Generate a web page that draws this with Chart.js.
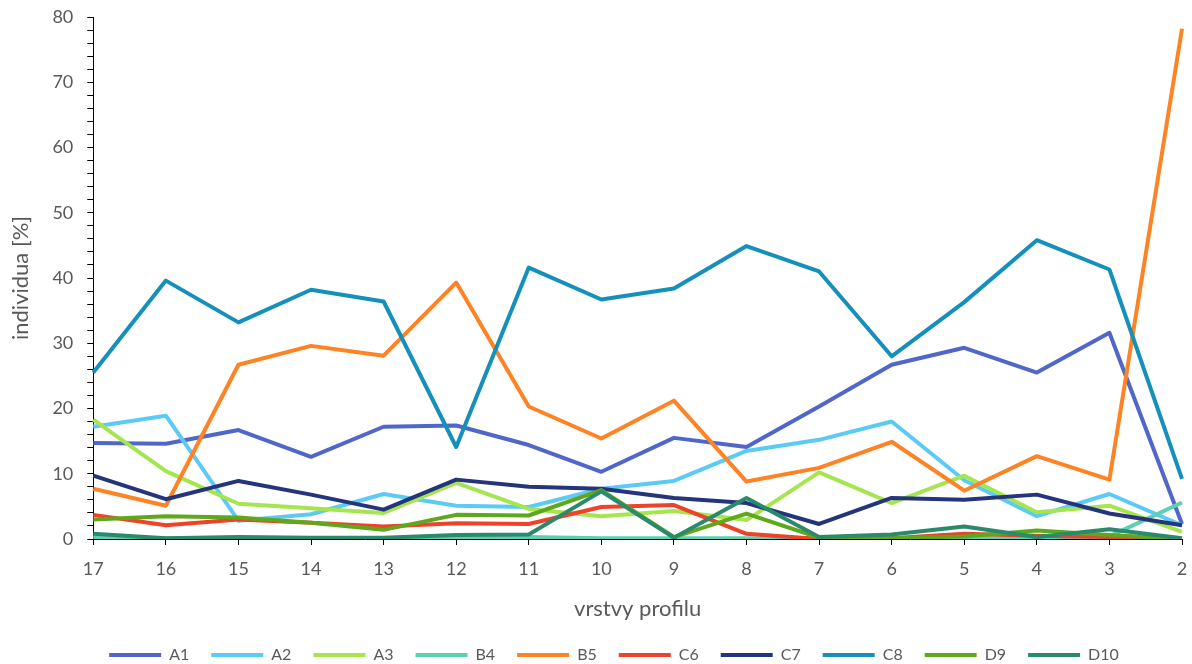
<!DOCTYPE html>
<html>
<head>
<meta charset="utf-8">
<script src="https://cdn.jsdelivr.net/npm/chart.js@4"></script>
<style>
  html, body { margin: 0; padding: 0; background: #fff; }
  #wrap { width: 1192px; height: 664px; position: relative; }
</style>
</head>
<body>
<div id="wrap"><canvas id="chart" width="1192" height="664"></canvas></div>
<script>
const layers = ["17", "16", "15", "14", "13", "12", "11", "10", "9", "8", "7", "6", "5", "4", "3", "2"];

const A1 = [14.7, 14.6, 16.7, 12.6, 17.2, 17.4, 14.4, 10.3, 15.5, 14.1, 20.3, 26.7, 29.3, 25.5, 31.6, 2.3];
const A2 = [17.2, 18.9, 2.8, 3.8, 6.9, 5.1, 4.9, 7.7, 8.9, 13.5, 15.2, 18.0, 9.0, 3.5, 6.9, 2.1];
const A3 = [18.3, 10.4, 5.4, 4.7, 4.0, 8.6, 4.6, 3.5, 4.3, 2.9, 10.2, 5.5, 9.7, 4.1, 5.1, 1.1];
const B4 = [0.2, 0.1, 0.1, 0.1, 0.1, 0.2, 0.3, 0.1, 0.1, 0.1, 0.1, 0.1, 0.1, 0.1, 0.4, 5.6];
const B5 = [7.7, 5.1, 26.7, 29.6, 28.1, 39.3, 20.3, 15.4, 21.2, 8.8, 10.9, 14.9, 7.4, 12.7, 9.1, 78.2];
const C6 = [3.7, 2.1, 3.0, 2.5, 1.9, 2.4, 2.3, 4.9, 5.2, 0.8, 0.0, 0.1, 0.8, 0.5, 0.3, 0.0];
const C7 = [9.7, 6.1, 8.9, 6.8, 4.5, 9.1, 8.0, 7.7, 6.3, 5.5, 2.3, 6.3, 6.0, 6.8, 3.9, 2.1];
const C8 = [25.5, 39.6, 33.2, 38.2, 36.4, 14.1, 41.6, 36.7, 38.4, 44.9, 41.0, 28.0, 36.3, 45.8, 41.3, 9.2];
const D9 = [3.0, 3.5, 3.3, 2.5, 1.4, 3.7, 3.6, 7.5, 0.3, 3.9, 0.2, 0.1, 0.4, 1.3, 0.6, 0.0];
const D10 = [0.8, 0.1, 0.3, 0.2, 0.2, 0.6, 0.7, 7.3, 0.2, 6.3, 0.3, 0.7, 1.9, 0.3, 1.5, 0.1];

const seriesNames = ["A1", "A2", "A3", "B4", "B5", "C6", "C7", "C8", "D9", "D10"];
const seriesData = [A1, A2, A3, B4, B5, C6, C7, C8, D9, D10];
const seriesColors = ["#5166c9", "#5bcbf5", "#a5e650", "#5dd0b1", "#fd8324", "#ee4229", "#25357b", "#1590bb", "#5fa81d", "#2a8a6b"];

const textColor = "#595959";
const fontFamily = "Lato, 'Open Sans', sans-serif";

const datasets = seriesNames.map((name, i) => ({
  label: name,
  data: seriesData[i],
  borderColor: seriesColors[i],
  backgroundColor: seriesColors[i],
  borderWidth: 4,
  pointRadius: 0,
  pointHoverRadius: 0,
  tension: 0,
  borderJoinStyle: "round",
  order: seriesNames.length - i   // later series on top, like the source
}));

// nudge the legend a bit right, the source centres it off the canvas middle
const legendShift = {
  id: "legendShift",
  afterLayout(chart) {
    const lg = chart.legend;
    if (lg) { lg.left += 16; lg.right += 16; }
  }
};

new Chart(document.getElementById("chart"), {
  type: "line",
  data: { labels: layers, datasets },
  plugins: [legendShift],
  options: {
    responsive: false,
    animation: false,
    layout: { padding: { left: 4, right: 0, top: 0, bottom: -9 } },
    plugins: {
      tooltip: { enabled: false },
      legend: {
        position: "bottom",
        labels: {
          color: textColor,
          font: { family: fontFamily, size: 16 },
          boxWidth: 52,
          boxHeight: 4,
          padding: 22,
          sort: (a, b) => a.datasetIndex - b.datasetIndex,
          generateLabels: chart => Chart.defaults.plugins.legend.labels.generateLabels(chart).map(l => ({ ...l, lineWidth: 0 }))
        }
      }
    },
    scales: {
      x: {
        offset: false,
        afterFit: s => { s.paddingRight = 10; },
        border: { display: true, color: "#000", width: 1 },
        grid: { drawOnChartArea: false, drawTicks: true, tickLength: 6, color: "#000" },
        ticks: { color: textColor, font: { family: fontFamily, size: 18 }, padding: 13, maxRotation: 0 },
        title: { display: true, text: "vrstvy profilu", color: textColor, font: { family: fontFamily, size: 22 }, padding: { top: 3, bottom: 3 } }
      },
      y: {
        min: 0,
        max: 80,
        afterFit: s => { s.paddingTop = 17; },
        border: { display: true, color: "#000", width: 1 },
        grid: { drawOnChartArea: false, drawTicks: true, tickLength: 6, color: "#000" },
        ticks: {
          stepSize: 2,
          autoSkip: false,
          color: textColor,
          font: { family: fontFamily, size: 18 },
          padding: 14,
          callback: v => (v % 10 === 0 ? v : "")
        },
        title: { display: true, text: "individua [%]", color: textColor, font: { family: fontFamily, size: 22 }, padding: { bottom: 4 } }
      }
    }
  }
});
</script>
</body>
</html>
